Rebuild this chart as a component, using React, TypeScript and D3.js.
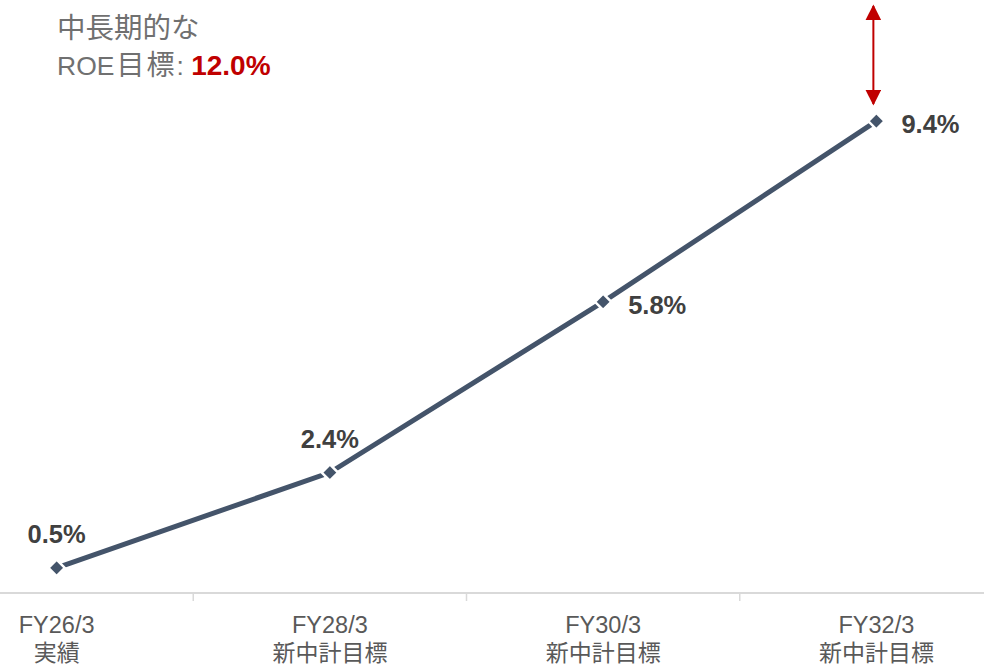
import React from "react";
import * as d3 from "d3";

const categories = ["FY26/3", "FY28/3", "FY30/3", "FY32/3"];
const subLabels = ["実績", "新中計目標", "新中計目標", "新中計目標"];
const values = [0.5, 2.4, 5.8, 9.4];
const valueLabels = ["0.5%", "2.4%", "5.8%", "9.4%"];
const targetValue = 12.0;

const W = 984;
const H = 667;
const FONT = "'Liberation Sans', Arial, 'Noto Sans CJK JP', sans-serif";
const JP = "'Noto Sans CJK JP', sans-serif";

export default function App() {
  const x = d3.scaleBand<string>().domain(categories).range([-80, 1013]).padding(0);
  const y = d3.scaleLinear().domain([0, 10]).range([593, 91]);
  const cx = (c: string) => (x(c) as number) + x.bandwidth() / 2;
  const pts: [number, number][] = values.map((v, i) => [cx(categories[i]), y(v)]);
  const line = d3.line<[number, number]>()(pts) as string;
  const diamond = d3.symbol().type(d3.symbolDiamond2 || d3.symbolDiamond).size(170)() as string;
  const tickXs = categories.slice(1).map((c) => x(c) as number);
  const lastX = cx(categories[3]) - 3;

  const labelPos = [
    { dx: 0, dy: -25, anchor: "middle" },
    { dx: 0, dy: -25, anchor: "middle" },
    { dx: 25, dy: 12, anchor: "start" },
    { dx: 25, dy: 12, anchor: "start" },
  ];

  return (
    <svg width={W} height={H} style={{ position: "absolute", left: 0, top: 0, background: "#fff" }}>
      <defs>
        <marker id="ah" viewBox="0 0 10 10" refX="9" refY="5" markerWidth="8" markerHeight="8" orient="auto-start-reverse">
          <path d="M0,0 L10,5 L0,10 z" fill="#C00000" />
        </marker>
      </defs>
      {/* axis */}
      <line x1={0} x2={W} y1={593} y2={593} stroke="#D9D9D9" strokeWidth={2} />
      {tickXs.map((t, i) => (
        <line key={i} x1={t} x2={t} y1={593} y2={601} stroke="#D9D9D9" strokeWidth={1.5} />
      ))}
      {categories.map((c, i) => (
        <g key={c} fontFamily={FONT} fill="#595959" textAnchor="middle">
          <text x={cx(c)} y={633} fontSize={23.5}>{c}</text>
          <text x={cx(c)} y={661} fontSize={23} fontFamily={JP}>{subLabels[i]}</text>
        </g>
      ))}
      {/* line */}
      <path d={line} fill="none" stroke="#44546A" strokeWidth={5} />
      {pts.map((p, i) => (
        <path key={i} d={diamond} transform={`translate(${p[0]},${p[1]})`} fill="#44546A" stroke="#fff" strokeWidth={2.5} />
      ))}
      {pts.map((p, i) => (
        <text key={"l" + i} x={p[0] + labelPos[i].dx} y={p[1] + labelPos[i].dy} textAnchor={labelPos[i].anchor as any}
          fontFamily={FONT} fontWeight="bold" fontSize={25.5} fill="#404040">{valueLabels[i]}</text>
      ))}
      {/* target arrow */}
      <line x1={lastX} x2={lastX} y1={6} y2={104} stroke="#C00000" strokeWidth={2}
        markerStart="url(#ah)" markerEnd="url(#ah)" />
      {/* annotation */}
      <text x={57} y={38} fontFamily={JP} fontSize={28.5} fill="#707070">中長期的な</text>
      <text x={57} y={75} fontFamily={FONT} fontSize={26.5} fill="#707070">
        <tspan>ROE</tspan>
        <tspan dx={2} fontFamily={JP} fontSize={28} letterSpacing={2}>目標</tspan>
        <tspan>: </tspan>
        <tspan fontWeight="bold" fontSize={28} fill="#C00000">{targetValue.toFixed(1)}%</tspan>
      </text>
    </svg>
  );
}
